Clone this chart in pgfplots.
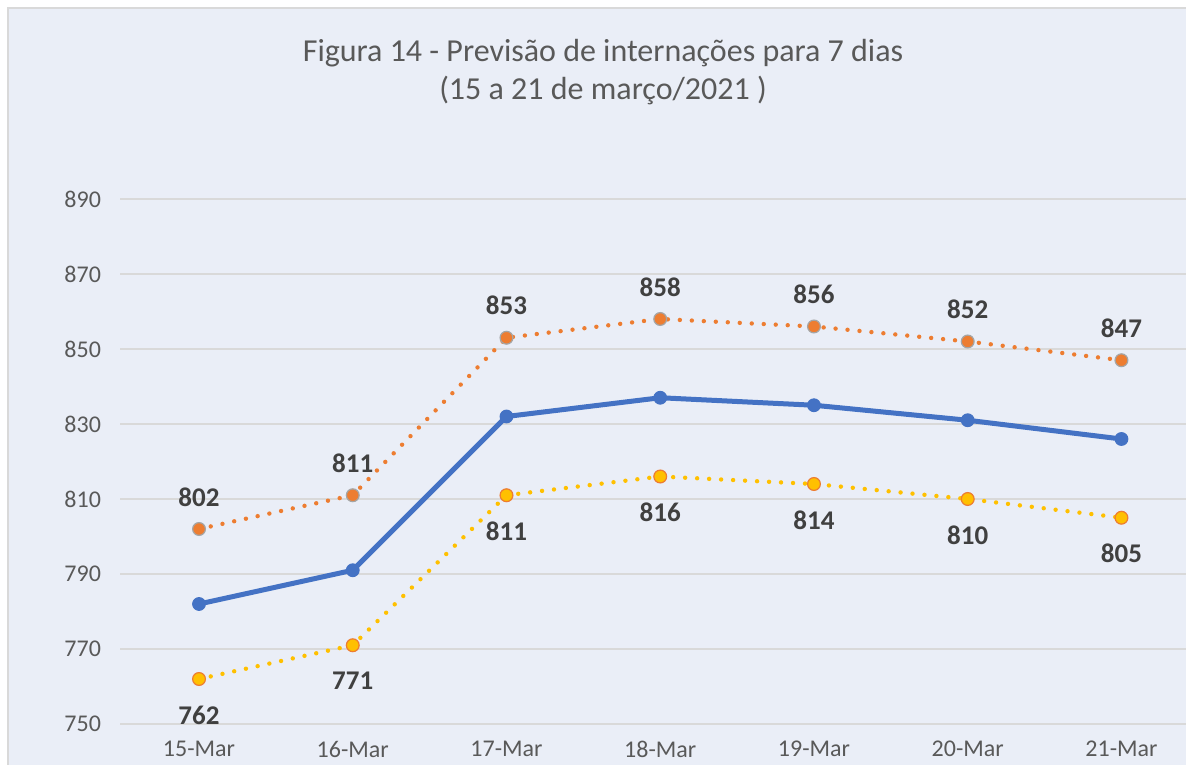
\documentclass[border=0pt]{standalone}
\usepackage{pgfplots}
\pgfplotsset{compat=1.18}
\usepackage{fontspec}
\setmainfont{Carlito}

\definecolor{bgblue}{HTML}{EAEEF7}
\definecolor{gridgray}{HTML}{D9D9D9}
\definecolor{txtgray}{HTML}{595959}
\definecolor{lblgray}{HTML}{404040}
\definecolor{serblue}{HTML}{4472C4}
\definecolor{serorange}{HTML}{ED7D31}
\definecolor{seryellow}{HTML}{FFC000}
\definecolor{edgegray}{HTML}{A5A5A5}

\begin{document}
\begin{tikzpicture}
% page: 593pt x 382pt (1 px = 0.5pt)
\useasboundingbox (0,0) rectangle (593pt,382pt);
\clip (0,0) rectangle (593pt,382pt);
\fill[white] (0,0) rectangle (593pt,382pt);
\filldraw[fill=bgblue, draw=gridgray, line width=0.8pt] (4pt,-10pt) rectangle (610pt,378pt);

\node[txtgray, font=\fontsize{16}{19}\selectfont, align=center] at (301.5pt,346pt)
  {Figura 14 - Previsão de internações para 7 dias\\(15 a 21 de março/2021 )};

\begin{axis}[
    at={(60pt,20pt)}, anchor=south west,
    scale only axis,
    width=533pt, height=262.5pt,
    xmin=-0.514, xmax=6.42,
    ymin=750, ymax=890,
    xtick={0,1,2,3,4,5,6},
    xticklabels={15-Mar,16-Mar,17-Mar,18-Mar,19-Mar,20-Mar,21-Mar},
    ytick={750,770,790,810,830,850,870,890},
    major tick length=0pt,
    axis line style={draw=none},
    ymajorgrids,
    grid style={gridgray, line width=0.8pt},
    /pgf/number format/assume math mode=true,
    ticklabel style={font=\fontsize{12}{14}\selectfont, text=txtgray},
    xticklabel style={yshift=-5pt},
    yticklabel style={xshift=-6pt},
    clip=false,
    nodes near coords style={font=\fontsize{13.5}{15}\selectfont\bfseries, text=lblgray, inner sep=0pt},
]
% upper bound (orange dotted)
\addplot[serorange, line width=2.2pt, line cap=round, dash pattern=on 0pt off 6pt,
    mark=*, mark size=3.2pt, mark options={solid, fill=serorange, draw=edgegray, line width=0.6pt},
    nodes near coords, nodes near coords style={anchor=south, yshift=11pt}]
  coordinates {(0,802) (1,811) (2,853) (3,858) (4,856) (5,852) (6,847)};
% forecast (blue solid)
\addplot[serblue, line width=2.5pt, mark=*, mark size=3.2pt,
    mark options={solid, fill=serblue, draw=serblue, line width=0.5pt}]
  coordinates {(0,782) (1,791) (2,832) (3,837) (4,835) (5,831) (6,826)};
% lower bound (yellow dotted)
\addplot[seryellow, line width=2.2pt, line cap=round, dash pattern=on 0pt off 6pt,
    mark=*, mark size=3.2pt, mark options={solid, fill=seryellow, draw=serorange, line width=0.6pt},
    nodes near coords, nodes near coords style={anchor=north, yshift=-13pt}]
  coordinates {(0,762) (1,771) (2,811) (3,816) (4,814) (5,810) (6,805)};
\end{axis}
\end{tikzpicture}
\end{document}
